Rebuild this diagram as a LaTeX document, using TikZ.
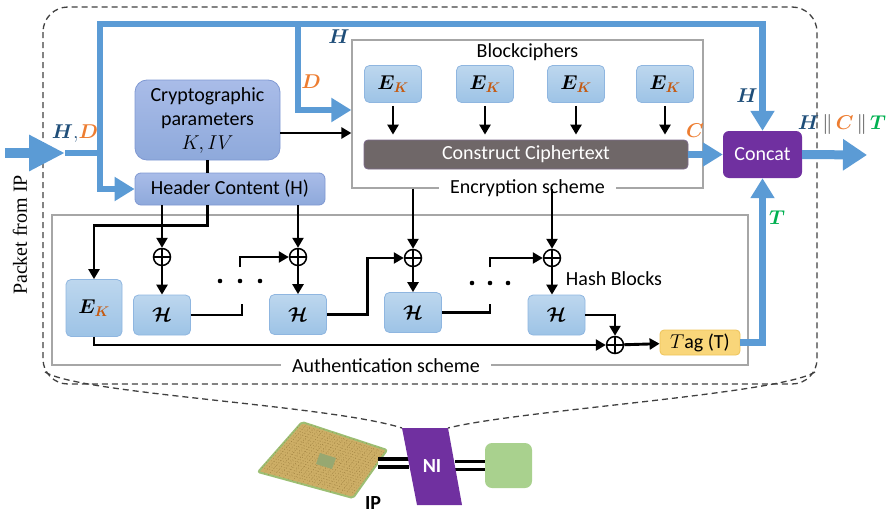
\RequirePackage{fix-cm}
\documentclass[tikz,border=0pt]{standalone}
\usepackage{fontspec}
\setmainfont{Carlito}
\newfontfamily\serifface{Liberation Serif}
\usepackage{bm}
\usetikzlibrary{arrows.meta,calc,positioning}

\definecolor{flowblue}{HTML}{5B9BD5}
\definecolor{hblue}{HTML}{1F4E79}
\definecolor{dorange}{HTML}{ED7D31}
\definecolor{korange}{HTML}{C55A11}
\definecolor{tgreen}{HTML}{00B050}
\definecolor{pipegray}{HTML}{404040}
\definecolor{eklight}{HTML}{BDD7EE}
\definecolor{ekdark}{HTML}{9DC3E6}
\definecolor{ekedge}{HTML}{8FB6E0}
\definecolor{cplight}{HTML}{A9BCE8}
\definecolor{cpdark}{HTML}{8EA9DB}
\definecolor{cpedge}{HTML}{7F98D2}
\definecolor{ctgray}{HTML}{6F6768}
\definecolor{ctedge}{HTML}{7C6A8A}
\definecolor{concatpurple}{HTML}{7030A0}
\definecolor{tagyellow}{HTML}{F9D67A}
\definecolor{tagedge}{HTML}{EEC45A}
\definecolor{framegray}{HTML}{A6A6A6}
\definecolor{dashgray}{HTML}{404040}
\definecolor{grnfill}{HTML}{A9D18E}
\definecolor{chipgold}{HTML}{CDAE66}
\definecolor{chippin}{HTML}{A08240}
\definecolor{chipedge}{HTML}{9DBF74}
\definecolor{chipcore}{HTML}{97A871}

% symbols used in the flow labels
\newcommand{\hsym}{\textcolor{hblue}{$\bm{H}$}}
\newcommand{\dsym}{\textcolor{dorange}{$\bm{D}$}}
\newcommand{\csym}{\textcolor{dorange}{$\bm{C}$}}
\newcommand{\tsym}{\textcolor{tgreen}{$\bm{T}$}}
\newcommand{\ek}{$\bm{E}_{\textcolor{korange}{\bm{K}}}$}
\newcommand{\hfun}{$\bm{\mathcal{H}}$}

\tikzset{
  flow/.style={line width=6.5pt, draw=flowblue, -{Triangle[length=20pt,width=23pt]}},
  flowline/.style={line width=6.5pt, draw=flowblue},
  arr/.style={line width=2.9pt, -{Triangle[length=10pt,width=11pt]}},
  link/.style={line width=2.9pt},
  ekbox/.style={rounded corners=5pt, top color=eklight, bottom color=ekdark, draw=ekedge,
    line width=0.8pt, minimum width=57pt, minimum height=37pt, inner sep=1pt},
  hashbox/.style={ekbox, minimum height=40pt},
  cryptobox/.style={top color=cplight, bottom color=cpdark, draw=cpedge, line width=0.8pt,
    rounded corners=6pt, inner sep=2pt},
  concatbox/.style={fill=concatpurple, rounded corners=6pt, text=white,
    minimum width=79pt, minimum height=47pt},
  frame/.style={draw=framegray, line width=1.2pt, inner sep=0pt},
  framelabel/.style={fill=white, inner xsep=11pt, inner ysep=1pt},
  xorop/.style={circle, draw, line width=1.5pt, minimum size=17pt, inner sep=0pt,
    path picture={\draw[line width=1.5pt]
      (path picture bounding box.north) -- (path picture bounding box.south)
      (path picture bounding box.west) -- (path picture bounding box.east);}},
  dbl/.style={line width=3.5pt, double=white, double distance=4.5pt},
  nidash/.style={dashgray, line width=1.3pt, dash pattern=on 6pt off 4pt},
}

\begin{document}
\begin{tikzpicture}[x=1pt, y=-1pt, every node/.style={font=\fontsize{20}{24}\selectfont}]
\useasboundingbox (0,0) rectangle (888,514);

% NI boundary, opened up
\draw[nidash, rounded corners=25pt] (43,7) rectangle (817,384);
\draw[nidash] (45,372) .. controls (80,394) and (330,405) .. (402,428);
\draw[nidash] (815,372) .. controls (780,394) and (520,410) .. (448,428);

\node[rotate=90, font=\serifface\fontsize{20}{24}\selectfont] (pktlabel) at (20,235) {Packet from IP};

% encryption side
\node[frame, minimum width=351pt, minimum height=148pt] (enc) at (527.5,114) {};
\node[framelabel] (enclabel) at (enc.south) {Encryption scheme};
\node[below=1pt of enc.north] (bclabel) {Blockciphers};
\foreach \x/\n in {393/1,485/2,576/3,665/4}
  \node[ekbox] (ek\n) at (\x,84) {\ek};
\node[fill=ctgray, draw=ctedge, line width=0.8pt, rounded corners=4pt, text=white,
  minimum width=324pt, minimum height=29pt, inner sep=1pt] (ctext) at (526,154.5) {Construct Ciphertext};
\foreach \n in {1,...,4}
  \draw[arr, shorten <=3pt, shorten >=5pt] (ek\n) -- (ek\n |- ctext.north);

% authentication side
\node[frame, minimum width=696pt, minimum height=150pt] (auth) at (400,290) {};
\node[framelabel] (authlabel) at ([xshift=-14pt]auth.south) {Authentication scheme};

\node[cryptobox, minimum width=145pt, minimum height=80pt, rounded corners=12pt, align=center]
  (crypto) at (207.5,120) {Cryptographic\\parameters\\$K, IV$};
\node[cryptobox, minimum width=190pt, minimum height=32pt] (hdr) at (230,189) {Header Content (H)};

\node[concatbox] (concat) at (762.5,154.5) {Concat};

\node[ekbox, minimum width=56pt, minimum height=57pt] (eka) at (94,308) {\ek};
\node[xorop] (xor1) at (162,257) {};
\node[xorop] (xor2) at (298,257) {};
\node[xorop] (xor3) at (413,258) {};
\node[xorop] (xor4) at (552,258) {};
\node[xorop] (xor5) at (615,345) {};
\node[hashbox] (hash1) at (162,315) {\hfun};
\node[hashbox] (hash2) at (298,314.5) {\hfun};
\node[hashbox] (hash3) at (413,312.5) {\hfun};
\node[hashbox] (hash4) at (556.5,315) {\hfun};
\node (hblabel) at (614,279) {Hash Blocks};
\node[fill=tagyellow, draw=tagedge, line width=0.8pt, rounded corners=4pt,
  minimum width=80pt, minimum height=25pt, inner sep=1pt] (tag) at (700,342.5) {$T$ag (T)};

% the omitted rounds
\foreach \x in {220,240,260} \fill (\x,281) circle (2.3pt);
\foreach \x in {472,490,508} \fill (\x,283) circle (2.3pt);
\coordinate (gap1a) at (242,304);
\coordinate (gap1b) at (240,267);
\coordinate (gap2a) at (490,304);
\coordinate (gap2b) at (490,267);

% black data paths
\draw[arr] ([yshift=-13pt]crypto.east) -- ([yshift=-13pt]crypto.east -| enc.west);
\draw[link] (crypto.south) -- (crypto.south |- hdr.north);
\draw[arr] (hdr.south -| crypto.south) -- ++(0,20) -| (eka.north);
\draw[arr] (hdr.south -| xor1) -- (xor1);
\draw[arr] (hdr.south -| xor2) -- (xor2);
\draw[arr] (enc.south -| xor3) -- (xor3);
\draw[arr] (enc.south -| xor4) -- (xor4);
\draw[arr] (xor1) -- (hash1);
\draw[arr] (xor2) -- (hash2);
\draw[arr] (xor3) -- (hash3);
\draw[arr] (xor4) -- (xor4 |- hash4.north);
\draw[link] (hash1.east) -| (gap1a);
\draw[arr] (gap1b) |- (xor2);
\draw[arr] (hash2.east) -- ++(41pt,0) |- (xor3);
\draw[link] (hash3.east) -| (gap2a);
\draw[arr] (gap2b) |- (xor4);
\draw[arr] (hash4.east) -| (xor5);
\draw[arr] (eka.south) |- (xor5);
\draw[arr] (xor5) -- (tag);

% packet flow
\coordinate (pin) at (5,153);
\coordinate (pend) at (65,153);
\coordinate (split) at (100,153);
\coordinate (topl) at (100,24);
\coordinate (topr) at (concat.north |- topl);
\coordinate (dtap) at (298,24);
\coordinate (out) at (867,155);
\draw[draw=flowblue, line width=10pt, -{Triangle[length=36pt,width=34pt]}] (pin) -- (pend);
\draw[flowline] (pend) -- (split);
\draw[flow] (split) -- (topl) -- (topr) -- (concat.north);
\draw[flow] (split) |- (hdr.west);
\draw[flow] (dtap) |- ([yshift=4pt]enc.west);
\draw[flow] (ctext.east) -- (concat.west);
\draw[flow] (tag.east) -| (concat.south);
\draw[draw=flowblue, line width=9pt, -{Triangle[length=24pt,width=30pt]}] (concat.east) -- (out);

\node (lblhd) at (75,134) {\textcolor{hblue}{$\bm{H},$}\dsym};
\node (lblh1) at (339,37) {\hsym};
\node (lbld) at (311,82) {\dsym};
\node (lblh2) at (747,96) {\hsym};
\node (lblc) at (695,131) {\csym};
\node (lblt) at (777,218) {\tsym};
\node (lblout) at (842,124) {\hsym\,\textcolor{pipegray}{$\|$}\,\csym\,\textcolor{pipegray}{$\|$}\,\tsym};

% IP core, network interface and router
\coordinate (chipT) at (302,422);
\coordinate (chipR) at (387,450);
\coordinate (chipB) at (353,498);
\coordinate (chipL) at (258,472);
\filldraw[fill=chipgold, draw=chipedge, line width=2pt, rounded corners=2pt]
  (chipT) -- (chipR) -- (chipB) -- (chipL) -- cycle;
\foreach \t in {0.06,0.11,...,0.95} {
  \draw[chippin, line width=0.6pt, dotted] ($(chipT)!\t!(chipR)$) -- ($(chipL)!\t!(chipB)$);
  \draw[chippin, line width=0.6pt, dotted] ($(chipT)!\t!(chipL)$) -- ($(chipR)!\t!(chipB)$);
}
\fill[chipcore] (320,453) -- (336,458) -- (332,469) -- (316,464) -- cycle;
\node[font=\bfseries\fontsize{20}{24}\selectfont] (ip) at (373,503) {IP};
\coordinate (chipport) at (378,463);

\node[minimum width=46pt, minimum height=77pt] (ni) at (432,466) {};
\node[fill=grnfill, rounded corners=7pt, minimum width=47pt, minimum height=45pt] (grn) at (508.5,465.5) {};
\draw[dbl] (chipport) -- (chipport -| ni.west);
\draw[dbl] (ni.east |- grn.west) -- (grn.west);
\fill[concatpurple] (402,428) -- (448,428) -- (462,505) -- (417,505) -- cycle;
\node[text=white, font=\bfseries\fontsize{20}{24}\selectfont] (nilabel) at (ni) {NI};
\end{tikzpicture}
\end{document}
